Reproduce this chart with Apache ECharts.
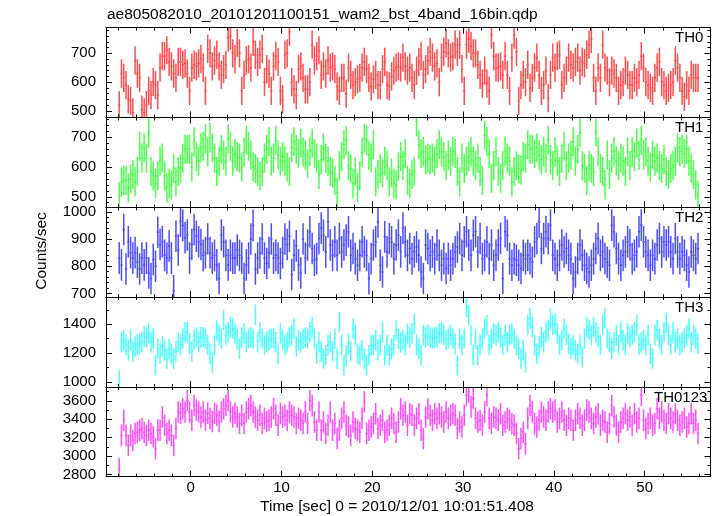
<!DOCTYPE html>
<html><head><meta charset="utf-8">
<script src="https://cdn.jsdelivr.net/npm/echarts@6/dist/echarts.min.js"></script>
<style>html,body{margin:0;padding:0;background:#fff}#c{width:717px;height:516px}</style>
</head><body><div id="c"></div><script>
const titleText = 'ae805082010_20101201100151_wam2_bst_4band_16bin.qdp';
const xTitle = 'Time [sec] 0 = 2010/12/01 10:01:51.408';
const yTitle = 'Counts/sec';
const panelNames = ['TH0', 'TH1', 'TH2', 'TH3', 'TH0123'];
const binStart = -8.0;
const binWidth = 0.25;
const xRange = [-9.33, 57.25];
const xMajorTicks = [0, 10, 20, 30, 40, 50];
const xMinorTicks = [-8,-6,-4,-2,0,2,4,6,8,10,12,14,16,18,20,22,24,26,28,30,32,34,36,38,40,42,44,46,48,50,52,54,56];
const yRanges = [[477.5, 788.7], [464.6, 766.7], [686.8, 1016.5], [965.3, 1587.9], [2776, 3752]];
const yMajorTicks = [[500,600,700],[500,600,700],[700,800,900,1000],[1000,1200,1400],[2800,3000,3200,3400,3600]];
const yMinorTicks = [
  [480,500,520,540,560,580,600,620,640,660,680,700,720,740,760,780],
  [480,500,520,540,560,580,600,620,640,660,680,700,720,740,760],
  [700,720,740,760,780,800,820,840,860,880,900,920,940,960,980,1000],
  [1000,1100,1200,1300,1400,1500],
  [2800,2900,3000,3100,3200,3300,3400,3500,3600,3700]
];
const errHalf = [49, 49, 58, 71, 117];
const barColors = ['#ff4c4c', '#4cff4c', '#4c4cff', '#4cffff', '#ff4cff'];

const th0 = [
520,630,615,590,540,535,495,675,630,615,
505,495,520,570,555,600,590,
555,650,690,690,710,670,655,
630,615,670,670,660,665,630,
570,650,660,655,665,680,650,570,
715,700,655,675,695,655,625,645,
660,755,760,700,680,735,700,570,
625,675,680,650,740,695,670,
695,715,600,645,630,570,655,
690,670,570,540,695,700,775,
600,575,555,645,655,615,575,
575,600,730,675,690,710,625,655,630,675,
650,655,645,585,570,615,615,560,650,625,
590,600,610,615,650,670,645,615,585,610,
625,590,590,645,670,590,585,620,640,650,
655,650,685,655,640,650,615,590,640,670,
690,625,645,675,705,685,655,665,600,685,
705,735,700,685,690,730,705,730,645,570,
730,750,725,700,700,660,625,595,640,595,
570,765,690,650,650,655,625,690,
625,570,685,765,705,535,590,625,600,660,
580,615,650,685,625,570,590,640,545,625,
685,650,690,695,590,615,640,685,660,650,
670,685,640,670,665,695,730,750,615,570,
650,615,730,650,640,600,640,630,615,570,
590,600,640,625,590,590,615,600,625,690,
650,600,590,580,570,615,650,670,600,590,
570,580,590,600,675,650,615,570,550,590,
570,625,615,615,615
];
const th1 = [
500,550,555,555,530,560,575,550,585,670,
630,665,630,715,585,570,545,
570,620,630,570,530,545,540,
595,550,585,595,630,660,660,
660,600,685,635,620,665,670,695,
650,700,665,630,585,620,660,640,
620,695,670,620,645,635,630,600,
650,690,670,640,600,595,585,
570,585,630,660,685,620,630,
690,640,620,635,620,600,585,
665,685,660,645,680,650,640,
612,652,680,645,630,575,625,665,630,620,
585,580,555,515,605,635,675,690,605,595,
545,585,530,570,650,697,690,640,630,675,
550,575,595,580,620,605,550,580,545,540,
600,635,605,645,555,545,575,585,752,675,
645,652,625,630,625,630,620,645,675,652,
635,605,640,620,652,645,585,550,630,595,
620,635,652,620,605,630,585,555,707,685,
645,562,605,652,585,562,605,652,
630,620,550,585,605,595,590,635,630,675,
660,660,645,665,640,625,652,630,690,625,
605,652,620,585,630,670,605,630,640,685,
620,660,715,605,595,555,605,595,585,720,
652,595,585,540,640,575,630,652,620,605,
630,620,585,652,605,652,635,680,640,690,
640,652,620,600,640,620,630,605,595,625,
585,575,595,605,620,665,652,660,645,660,
620,595,575,540,505
];
const th2 = [
830,805,935,790,890,850,830,850,815,790,
830,805,830,775,755,825,800,
925,880,890,840,830,875,830,
710,910,860,965,950,905,915,
830,880,935,910,890,880,840,850,
900,850,830,840,805,755,915,890,
840,805,840,830,830,860,840,830,
755,805,830,900,950,790,830,
850,900,830,810,850,900,830,
840,830,810,850,900,880,910,
770,840,875,805,775,900,830,
878,927,865,822,828,902,940,914,853,963,
878,840,890,840,902,853,878,896,927,840,
865,828,804,840,890,853,840,755,828,878,
890,963,804,779,908,853,902,890,828,878,
914,853,940,890,840,865,828,853,871,840,
779,755,878,865,840,853,828,878,840,804,
828,792,828,804,828,853,871,902,840,890,
927,878,840,914,927,853,902,828,840,890,
828,878,804,840,878,902,755,927,
914,828,804,828,822,804,792,840,828,840,
828,815,890,902,963,865,902,927,902,951,
840,828,804,840,878,853,865,840,828,755,
779,828,878,840,804,792,779,804,828,865,
902,840,853,828,815,804,951,927,865,828,
804,840,853,890,878,828,840,853,927,951,
890,853,840,804,840,828,878,902,853,890,
878,890,853,828,902,853,828,853,840,804,
779,853,840,828,865
];
const th3 = [
1010,1275,1290,1255,1220,1290,1210,1245,1255,1265,
1275,1315,1310,1335,1275,1300,1115,
1230,1195,1245,1220,1160,1230,1195,
1160,1210,1275,1255,1300,1345,1345,
1265,1210,1290,1310,1275,1310,1310,1300,
1255,1195,1135,1255,1360,1325,1300,1430,
1325,1345,1380,1370,1335,1300,1230,1310,
1335,1275,1300,1310,1300,1465,1275,
1345,1300,1255,1275,1290,1300,1300,
1275,1195,1335,1290,1255,1275,1310,
1325,1370,1245,1290,1275,1300,1310,
1300,1345,1380,1300,1195,1275,1210,1160,1185,1255,
1275,1210,1300,1160,1415,1255,1115,1185,1265,1210,
1370,1325,1195,1185,1220,1160,1115,1185,1255,1255,
1290,1220,1255,1345,1185,1255,1185,1230,1255,1360,
1300,1275,1290,1255,1335,1310,1335,1405,1255,1230,
1185,1325,1310,1325,1310,1300,1310,1310,1335,1345,
1325,1290,1300,1325,1300,1265,1115,1300,1255,1300,
1520,1460,1325,1185,1300,1185,1255,1300,1370,1395,
1255,1300,1335,1325,1345,1310,1255,1325,
1275,1325,1335,1300,1255,1230,1160,1220,1135,1395,
1440,1380,1255,1195,1245,1310,1275,1345,1360,1440,
1395,1405,1335,1255,1290,1370,1325,1265,1230,1255,
1220,1195,1255,1170,1300,1380,1360,1325,1380,1345,
1310,1255,1395,1440,1300,1275,1230,1275,1325,1255,
1345,1290,1255,1335,1310,1325,1345,1395,1255,1275,
1290,1255,1325,1195,1160,1325,1360,1300,1255,1345,
1405,1325,1255,1345,1275,1300,1255,1275,1300,1325,
1370,1275,1325,1300,1265
];
const th0123 = [
2860,3225,3390,3225,3115,3225,3170,3245,3260,3280,
3300,3260,3225,3280,3245,3210,3080,
3280,3280,3425,3335,3245,3280,3225,
3115,3300,3480,3465,3515,3480,3605,
3480,3390,3550,3500,3480,3425,3480,3390,
3465,3410,3375,3465,3445,3375,3480,3515,
3550,3605,3480,3425,3465,3425,3355,3445,
3355,3480,3515,3550,3480,3425,3390,
3445,3355,3410,3375,3390,3425,3515,
3445,3335,3465,3425,3445,3390,3480,
3445,3425,3355,3410,3390,3355,3480,
3355,3605,3550,3370,3280,3480,3280,3370,3245,3335,
3480,3280,3355,3190,3280,3410,3480,3335,3315,3225,
3370,3300,3280,3260,3410,3590,3245,3280,3315,3355,
3460,3300,3335,3390,3260,3280,3335,3410,3355,3260,
3370,3515,3445,3480,3335,3460,3445,3335,3410,3460,
3280,3190,3425,3515,3445,3390,3460,3410,3460,3425,
3370,3480,3410,3445,3460,3445,3300,3370,3315,3445,
3660,3700,3535,3625,3410,3370,3390,3335,3480,3660,
3410,3355,3425,3410,3390,3460,3335,3370,
3410,3390,3355,3335,3245,3080,3190,3260,3135,3410,
3550,3480,3355,3315,3390,3480,3425,3390,3480,3515,
3480,3500,3370,3410,3480,3390,3335,3410,3390,3280,
3390,3460,3410,3335,3390,3500,3480,3410,3355,3425,
3460,3335,3390,3370,3260,3355,3550,3425,3335,3260,
3370,3410,3460,3390,3425,3335,3460,3370,3410,3660,
3390,3300,3355,3410,3335,3355,3515,3410,3480,3390,
3355,3460,3410,3370,3460,3390,3335,3370,3410,3315,
3355,3460,3355,3390,3245
];
const panels = [th0, th1, th2, th3, th0123];

const font = "'Liberation Sans', Arial, Helvetica, sans-serif";
const black = '#000';
const gridTop0 = 27.7, gridH = 89.8, gridLeft = 106, gridRightEdge = 710.5;
const grids = [], xAxes = [], yAxes = [], series = [], graphics = [];

function makeRender(g) {
  return function (params, api) {
    const t = api.value(0), v = api.value(1), e = api.value(2);
    const a = api.coord([t - binWidth / 2, v]), b = api.coord([t + binWidth / 2, v]);
    const c = api.coord([t, v + e]), d = api.coord([t, v - e]);
    return {
      type: 'path',
      shape: { pathData: 'M' + c[0] + ' ' + c[1] + 'L' + d[0] + ' ' + d[1] + 'M' + a[0] + ' ' + a[1] + 'L' + b[0] + ' ' + b[1] },
      style: { stroke: barColors[g], fill: null, lineWidth: 1.5 }
    };
  };
}
const fmt = v => String(Math.round(v));

for (let g = 0; g < 5; g++) {
  const top = gridTop0 + g * gridH;
  grids.push({ left: gridLeft, width: gridRightEdge - gridLeft, top: top, height: gridH });
  const last = g === 4;
  const xb = { gridIndex: g, type: 'value', min: xRange[0], max: xRange[1], splitLine: { show: false }, z: 5 };
  const lineOn = { show: true, onZero: false, lineStyle: { color: black, width: 1 } };
  const lineOff = { show: false, onZero: false };
  xAxes.push(Object.assign({}, xb, { position: 'bottom', axisLine: lineOn,
    axisTick: { show: true, inside: true, length: 6, customValues: xMajorTicks, lineStyle: { color: black } },
    axisLabel: { show: last, customValues: xMajorTicks, margin: 4, color: black, fontSize: 15, fontFamily: font, formatter: fmt } }));
  xAxes.push(Object.assign({}, xb, { position: 'top', axisLine: lineOn,
    axisTick: { show: true, inside: true, length: 6, customValues: xMajorTicks, lineStyle: { color: black } },
    axisLabel: { show: false } }));
  xAxes.push(Object.assign({}, xb, { position: 'bottom', axisLine: lineOff,
    axisTick: { show: true, inside: true, length: 3, customValues: xMinorTicks, lineStyle: { color: black } },
    axisLabel: { show: false } }));
  xAxes.push(Object.assign({}, xb, { position: 'top', axisLine: lineOff,
    axisTick: { show: true, inside: true, length: 3, customValues: xMinorTicks, lineStyle: { color: black } },
    axisLabel: { show: false } }));

  const yb = { gridIndex: g, type: 'value', min: yRanges[g][0], max: yRanges[g][1], splitLine: { show: false }, z: 5 };
  yAxes.push(Object.assign({}, yb, { position: 'left', axisLine: lineOn,
    axisTick: { show: true, inside: true, length: 6, customValues: yMajorTicks[g], lineStyle: { color: black } },
    axisLabel: { show: true, customValues: yMajorTicks[g], margin: 10, color: black, fontSize: 15, fontFamily: font, formatter: fmt } }));
  yAxes.push(Object.assign({}, yb, { position: 'right', axisLine: lineOn,
    axisTick: { show: true, inside: true, length: 6, customValues: yMajorTicks[g], lineStyle: { color: black } },
    axisLabel: { show: false } }));
  yAxes.push(Object.assign({}, yb, { position: 'left', axisLine: lineOff,
    axisTick: { show: true, inside: true, length: 3, customValues: yMinorTicks[g], lineStyle: { color: black } },
    axisLabel: { show: false } }));
  yAxes.push(Object.assign({}, yb, { position: 'right', axisLine: lineOff,
    axisTick: { show: true, inside: true, length: 3, customValues: yMinorTicks[g], lineStyle: { color: black } },
    axisLabel: { show: false } }));

  const vals = panels[g];
  const data = vals.map((v, i) => [binStart + binWidth * (i + 0.5), v, errHalf[g]]);
  series.push({ type: 'custom', name: panelNames[g], xAxisIndex: 4 * g, yAxisIndex: 4 * g, clip: true,
    itemStyle: { color: barColors[g] },
    encode: { x: 0, y: 1 }, data: data, renderItem: makeRender(g), z: 2 });

  graphics.push({ type: 'text', x: g === 4 ? 654 : 675, y: top + 10.5,
    style: { text: panelNames[g], fill: black, font: '15px ' + font, textAlign: 'left', textVerticalAlign: 'middle' } });
}
graphics.push({ type: 'text', x: 107, y: 14.5, style: { text: titleText, fill: black, font: '15.5px ' + font, textAlign: 'left', textVerticalAlign: 'middle' } });
graphics.push({ type: 'text', x: 397, y: 506.7, style: { text: xTitle, fill: black, font: '15.5px ' + font, textAlign: 'center', textVerticalAlign: 'middle' } });
graphics.push({ type: 'text', x: 42, y: 251, rotation: Math.PI / 2, style: { text: yTitle, fill: black, font: '15.5px ' + font, textAlign: 'center', textVerticalAlign: 'middle' } });

const chart = echarts.init(document.getElementById('c'), null, { renderer: 'canvas' });
chart.setOption({
  animation: false,
  backgroundColor: '#fff',
  grid: grids, xAxis: xAxes, yAxis: yAxes, series: series, graphic: graphics
});
</script></body></html>
